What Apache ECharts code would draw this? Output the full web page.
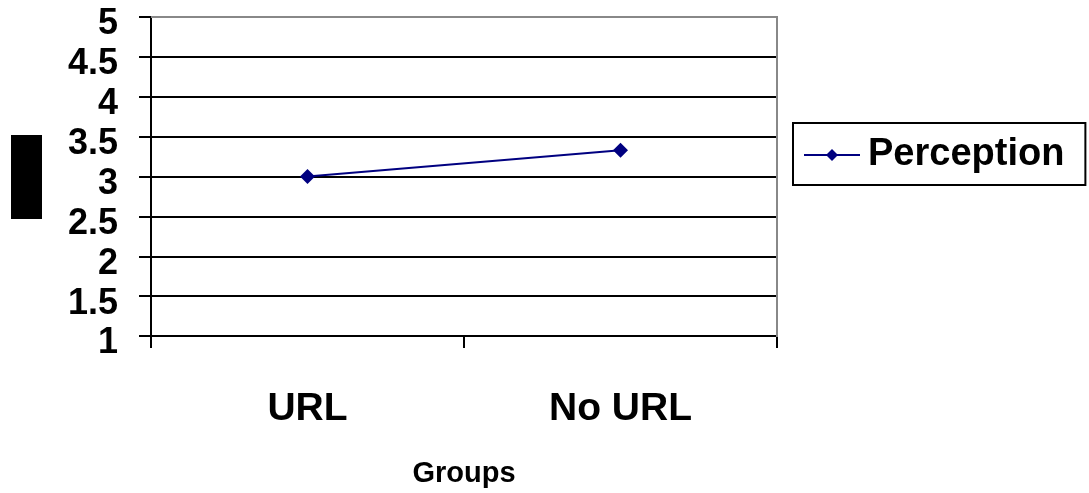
<!DOCTYPE html>
<html><head><meta charset="utf-8">
<script src="https://cdn.jsdelivr.net/npm/echarts@6/dist/echarts.min.js"></script>
<style>html,body{margin:0;padding:0;background:#fff}#c{width:1089px;height:493px}</style>
</head><body><div id="c"></div>
<script>
const categories = ['URL', 'No URL'];
const perception = [3.0, 3.33];
const seriesName = 'Perception';
const xAxisTitle = 'Groups';
const yMin = 1, yMax = 5, yStep = 0.5;

const chart = echarts.init(document.getElementById('c'), null, {renderer: 'canvas'});
const FONT = '"Liberation Sans", Arial, sans-serif';
const gL = 151, gT = 17, gR = 312, gB = 156;
const W = 1089, H = 493;
chart.setOption({
  animation: false,
  backgroundColor: '#fff',
  textStyle: {fontFamily: FONT},
  grid: {left: gL, top: gT, right: gR, bottom: gB, containLabel: false},
  legend: {
    left: 793, top: 123,
    orient: 'vertical',
    data: [seriesName],
    itemWidth: 56, itemHeight: 15, itemGap: 0,
    padding: [13, 21, 11, 10],
    borderColor: '#000', borderWidth: 2,
    textStyle: {fontFamily: FONT, fontWeight: 'bold', fontSize: 38, color: '#000', padding: [0, 0, 0, 3]}
  },
  xAxis: {
    type: 'category', data: categories, boundaryGap: true,
    axisLine: {lineStyle: {color: '#000', width: 2}},
    axisTick: {show: true, length: 12, lineStyle: {color: '#000', width: 2}},
    axisLabel: {margin: 54, fontSize: 39, fontWeight: 'bold', color: '#000', fontFamily: FONT},
    name: xAxisTitle, nameLocation: 'middle', nameGap: 123,
    nameTextStyle: {fontSize: 29, fontWeight: 'bold', color: '#000', fontFamily: FONT}
  },
  yAxis: {
    type: 'value', min: yMin, max: yMax, interval: yStep,
    axisLine: {show: true, lineStyle: {color: '#000', width: 2}},
    axisTick: {show: true, length: 12, lineStyle: {color: '#000', width: 2}},
    axisLabel: {
      margin: 33, color: '#000',
      formatter: v => '{a|' + v + '}',
      rich: {a: {fontSize: 36, fontWeight: 'bold', color: '#000', fontFamily: FONT, padding: [15, 0, 0, 0]}}
    },
    splitLine: {show: true, lineStyle: {color: '#000', width: 2}}
  },
  graphic: [
    {type: 'rect', shape: {x: 11, y: 135, width: 31, height: 84}, style: {fill: '#000'}},
    {type: 'polyline', z: 100, shape: {points: [[gL, gT], [W - gR, gT], [W - gR, H - gB]]}, style: {stroke: '#888', lineWidth: 2, fill: null}}
  ],
  series: [{
    name: seriesName, type: 'line', data: perception,
    symbol: 'diamond', symbolSize: 15,
    lineStyle: {color: '#000080', width: 2},
    itemStyle: {color: '#000080'}
  }]
});
</script></body></html>
